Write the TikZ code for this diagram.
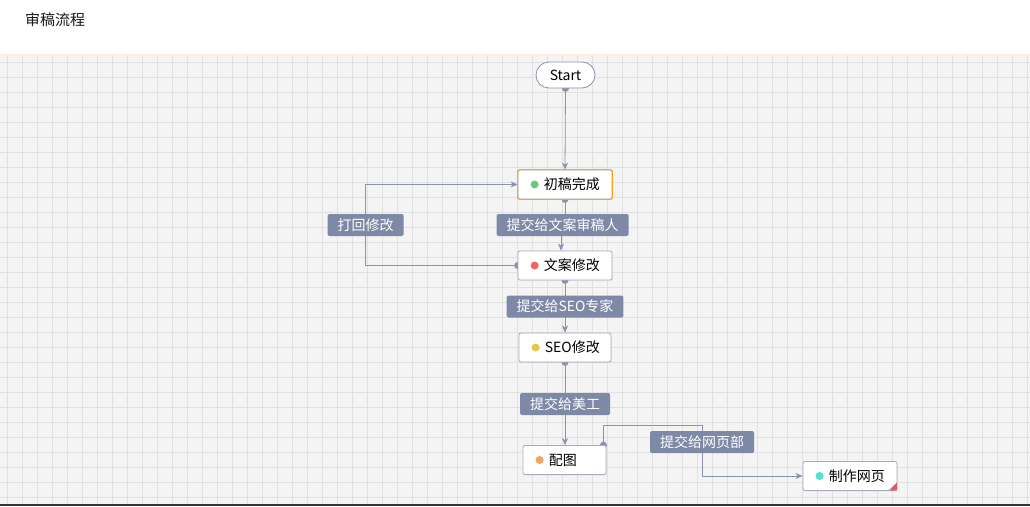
\documentclass[tikz,border=0pt]{standalone}
\usepackage{fontspec}
\setmainfont{Noto Sans CJK SC}
\usetikzlibrary{arrows.meta,shadows}
\definecolor{canvas}{HTML}{F4F4F4}
\definecolor{gridline}{HTML}{E1E1E1}
\definecolor{edgecol}{HTML}{8A93AE}
\definecolor{tagcol}{HTML}{7E89A6}
\definecolor{boxline}{HTML}{A5ACC2}
\definecolor{activeline}{HTML}{FFA31A}
\definecolor{dotgreen}{HTML}{6CC97A}
\definecolor{dotred}{HTML}{F1655D}
\definecolor{dotyellow}{HTML}{E8C447}
\definecolor{dotorange}{HTML}{F3A260}
\definecolor{dotcyan}{HTML}{4FE2D2}
\definecolor{cornerred}{HTML}{E05A64}
\pgfdeclarelayer{back}
\pgfdeclarelayer{edges}
\pgfsetlayers{back,edges,main}
\tikzset{
    statebox/.style={draw=boxline,fill=white,rounded corners=2pt,line width=0.8pt,
        minimum height=29pt,inner sep=0pt,
        drop shadow={opacity=0.10,shadow xshift=0.8pt,shadow yshift=-1.2pt}},
    tag/.style={fill=tagcol,text=white,rounded corners=1.5pt,minimum height=22pt,
        inner xsep=10pt,inner ysep=0pt,font=\fontsize{14}{14}\selectfont},
    flow/.style={draw=edgecol,line width=0.8pt,-{Stealth[length=7pt,width=6pt,inset=2pt]}},
    srcdot/.style={fill=edgecol}
}
\begin{document}
\begin{tikzpicture}[x=1pt,y=-1pt,font=\fontsize{14}{14}\selectfont]
    \useasboundingbox (0,0) rectangle (1030,506);
    \begin{pgfonlayer}{back}
        % draw the header and the canvas
        \fill[white] (0,0) rectangle (1030,54);
        \fill[canvas] (0,54) rectangle (1030,504);
        \foreach \x in {7,22,...,1027}
            \draw[gridline,line width=0.8pt] (\x,54) -- (\x,504);
        \foreach \y in {62.5,77.5,...,502.5}
            \draw[gridline,line width=0.8pt] (0,\y) -- (1030,\y);
        \draw[orange!15,line width=1pt] (0,54) -- (1030,54);
        \fill[black!80] (0,504) rectangle (1030,506);
    \end{pgfonlayer}

    % title
    \node[anchor=west,font=\fontsize{15}{15}\selectfont,text=black!90,inner sep=0pt] (title) at (25,20) {审稿流程};

    % start node
    \node[draw=edgecol,fill=white,line width=0.8pt,rounded corners=13pt,
        minimum width=59pt,minimum height=26pt,inner sep=0pt] (start) at (565.5,75) {Start};

    % draw the states with their dots
    \foreach \name/\x/\y/\w/\col/\txt in {
        chugao/565/184.5/94/dotgreen/初稿完成,
        wenan/565/265.5/94/dotred/文案修改,
        seo/565/347.5/92/dotyellow/SEO修改,
        peitu/564.5/460/83/dotorange/配图,
        zhizuo/850/476/94/dotcyan/制作网页} {
        \node[statebox,minimum width=\w pt] (\name) at (\x,\y) {};
        \fill[\col] ([xshift=17pt]\name.west) circle(4pt);
        \node[anchor=west,inner sep=0pt] at ([xshift=26pt]\name.west) {\txt};
        }
    % the current state is marked orange
    \draw[activeline,line width=0.9pt,rounded corners=2pt] (chugao.north west) rectangle (chugao.south east);
    % corner mark of the last state
    \fill[cornerred] ([xshift=-0.5pt,yshift=0.5pt]zhizuo.south east) -- ++(-8,0) -- ++(8,-8) -- cycle;

    % labels of the transitions
    \node[tag] (back) at (365.5,225) {打回修改};
    \node[tag] (toreview) at (562.5,225) {提交给文案审稿人};
    \node[tag] (toseo) at (565,306.5) {提交给SEO专家};
    \node[tag] (toart) at (565,404) {提交给美工};
    \node[tag] (toweb) at (702,442) {提交给网页部};

    \begin{pgfonlayer}{edges}
        % draw the transitions
        \draw[flow] (start.south) -- (chugao.north);
        \draw[flow] (chugao.south) -- (chugao.south |- toreview.center) -| ([xshift=-4pt]wenan.north);
        \draw[flow] (wenan.west) -| (back.center) |- (chugao.west);
        \draw[flow] (wenan.south) -- (seo.north);
        \draw[flow] (seo.south) -- ([xshift=0.5pt]peitu.north);
        \draw[flow] ([xshift=-3pt]peitu.north east) -- ++(0,-20) -| (toweb.center) |- (zhizuo.west);
        % dots at the start of each transition
        \foreach \p in {start.south,chugao.south,wenan.west,wenan.south,seo.south}
            \fill[srcdot] (\p) circle(3.5pt);
        \fill[srcdot] ([xshift=-3pt]peitu.north east) circle(3.5pt);
    \end{pgfonlayer}
\end{tikzpicture}
\end{document}
